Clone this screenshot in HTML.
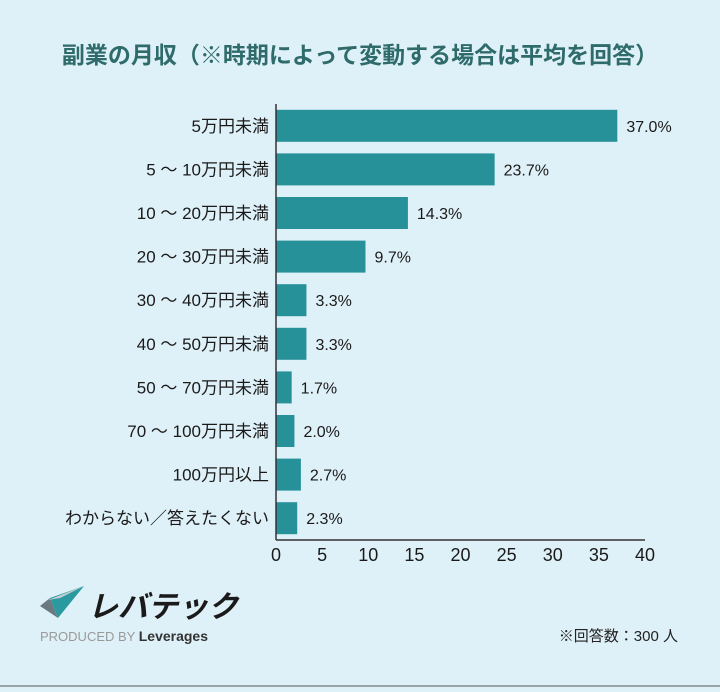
<!DOCTYPE html>
<html><head><meta charset="utf-8"><style>
body{margin:0;background:#dff1f8;}
svg text{font-family:"Liberation Sans","Noto Sans CJK JP",sans-serif;}
</style></head><body>
<svg width="720" height="687" viewBox="0 0 720 687">
<rect width="720" height="687" fill="#dff1f8"/>
<text x="360" y="63" text-anchor="middle" font-size="23" font-weight="bold" fill="#2e6b6a">副業の月収（※時期によって変動する場合は平均を回答）</text>
<g id="plot"></g>
<g>
<polygon points="40,606 50,598 58,618" fill="#6b7a80"/>
<polygon points="50,598 84,586 58,618" fill="#2a9aa0"/>
<polygon points="48,600 84,586 60,598" fill="#c7cfd2"/>
<text x="88" y="617" font-size="30" font-weight="bold" font-style="italic" fill="#1a1a1a">レバテック</text>
<text x="40" y="641" font-size="13" fill="#999">PRODUCED BY <tspan fill="#333" font-weight="bold" font-size="14">Leverages</tspan></text>
</g>
<text x="678" y="641" text-anchor="end" font-size="15" fill="#222">※回答数：300 人</text>
<line x1="0" y1="686" x2="720" y2="686" stroke="#9aa5a8" stroke-width="2"/>
</svg>
<script>
const categories=["5万円未満","5 ～ 10万円未満","10 ～ 20万円未満","20 ～ 30万円未満","30 ～ 40万円未満","40 ～ 50万円未満","50 ～ 70万円未満","70 ～ 100万円未満","100万円以上","わからない／答えたくない"];
const values=[37.0,23.7,14.3,9.7,3.3,3.3,1.7,2.0,2.7,2.3];
const ticks=[0,5,10,15,20,25,30,35,40];
const NS="http://www.w3.org/2000/svg";
const plotG=document.getElementById("plot");
const x0=276,x1=645,xmax=40,plotTop=104,step=43.6,bh=32;
const xs=v=>x0+(v/xmax)*(x1-x0);
const yc=i=>plotTop+step*i+step/2;
function mk(t,a){const e=document.createElementNS(NS,t);for(const k in a)e.setAttribute(k,a[k]);plotG.appendChild(e);return e;}
categories.forEach((c,i)=>{
 const r=mk("rect",{x:x0,y:yc(i)-bh/2,width:xs(values[i])-x0,height:bh,fill:"#27919a"});
 
 
 const l=mk("text",{x:x0-7,y:yc(i)+6,"text-anchor":"end","font-size":"17",fill:"#1a1a1a"});l.textContent=c;
 
 
 const v=mk("text",{x:xs(values[i])+9,y:yc(i)+6,"font-size":"16",fill:"#1a1a1a"});v.textContent=values[i].toFixed(1)+"%";
 
 
});
const bottom=plotTop+step*categories.length;
const ya=mk("line",{x1:x0,y1:plotTop,x2:x0,y2:bottom,stroke:"#333","stroke-width":1.5});


const xa=mk("line",{x1:x0,y1:bottom,x2:x1,y2:bottom,stroke:"#333","stroke-width":1.5});


ticks.forEach(t=>{
 const e=mk("text",{x:xs(t),y:bottom+21,"text-anchor":"middle","font-size":"18",fill:"#1a1a1a"});e.textContent=t;
 
 
});
</script>
</body></html>
